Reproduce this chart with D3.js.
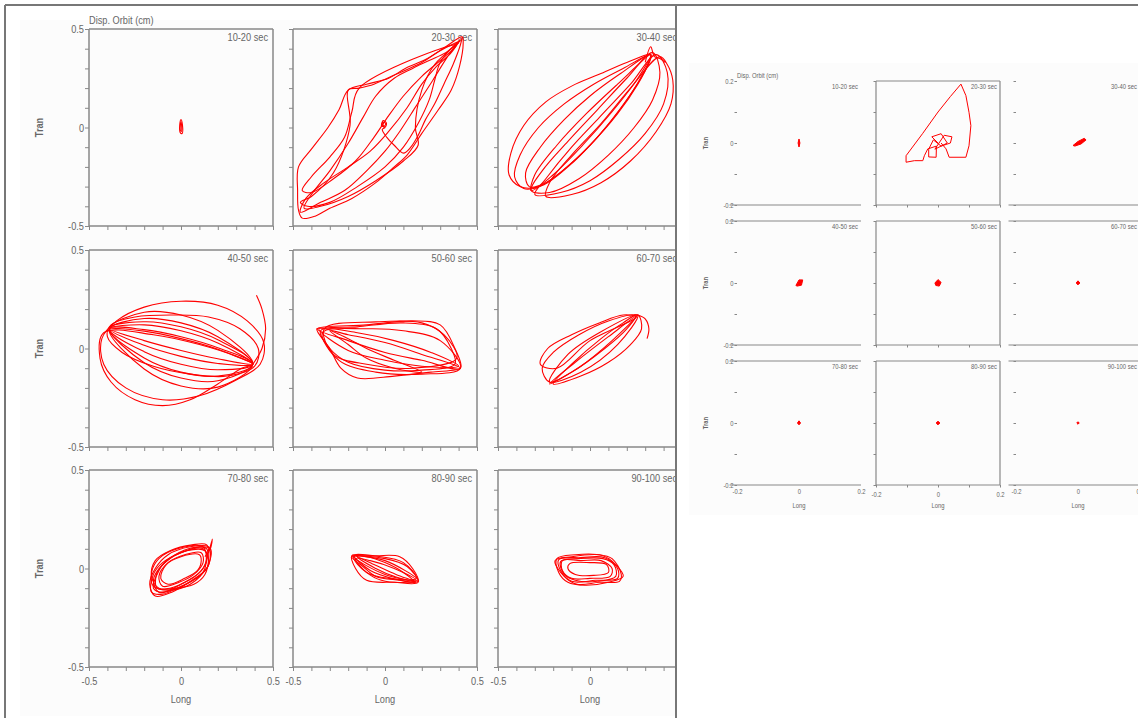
<!DOCTYPE html>
<html>
<head>
<meta charset="utf-8">
<script src="https://cdn.jsdelivr.net/npm/d3@7"></script>
<style>
body { margin: 0; background: #fff; }
svg { display: block; }
text { font-family: "Liberation Sans Narrow", "Arial Narrow", "Liberation Sans", sans-serif; fill: #666; }
</style>
</head>
<body>
<div id="chart"></div>
<script>
// time windows, one per panel
var windows = ["10-20 sec", "20-30 sec", "30-40 sec", "40-50 sec", "50-60 sec",
  "60-70 sec", "70-80 sec", "80-90 sec", "90-100 sec"];

// axis ticks (cm)
var bigTicks = [-0.5, -0.4, -0.3, -0.2, -0.1, 0, 0.1, 0.2, 0.3, 0.4, 0.5];
var bigLabels = [-0.5, 0, 0.5];
var smallTicks = [-0.2, -0.1, 0, 0.1, 0.2];
var smallLabels = [-0.2, 0, 0.2];

// orbits: closed loops [long, tran]
var orbit1020 = [
  [[0, 0.04], [0.008, 0.012], [0.006, -0.03], [-0.004, -0.026], [-0.007, 0.01]],
  [[0, 0.03], [0.004, 0.0], [0.002, -0.02], [-0.004, -0.012]]
];
var orbit2030 = [
  [[0.42, 0.46], [0.33, 0.41], [0.22, 0.345], [0.11, 0.3], [0.02, 0.25], [-0.1, 0.22], [-0.2, 0.19], [-0.25, 0.09], [-0.31, 0.0], [-0.4, -0.11], [-0.47, -0.2], [-0.475, -0.32], [-0.47, -0.42], [-0.45, -0.46], [-0.38, -0.45], [-0.3, -0.41], [-0.18, -0.36], [-0.05, -0.28], [0.05, -0.2], [0.12, -0.14], [0.2, -0.03], [0.29, 0.09], [0.36, 0.19], [0.405, 0.31], [0.425, 0.43]],
  [[-0.2, 0.19], [-0.19, 0.01], [-0.28, -0.23], [-0.4, -0.35], [-0.46, -0.38], [-0.42, -0.4], [-0.3, -0.38], [-0.15, -0.3], [0.0, -0.2], [0.1, -0.1], [0.18, 0.02], [0.24, 0.14], [0.27, 0.24], [0.3, 0.33], [0.38, 0.42], [0.41, 0.44], [0.3, 0.39], [0.2, 0.33], [0.06, 0.27], [-0.06, 0.22], [-0.14, 0.2]],
  [[0.27, 0.32], [0.2, 0.19], [0.165, 0.0], [0.18, -0.09], [0.1, -0.17], [-0.05, -0.27], [-0.2, -0.35], [-0.35, -0.4], [-0.44, -0.41], [-0.4, -0.34], [-0.3, -0.22], [-0.2, -0.08], [-0.12, 0.05], [-0.05, 0.16], [0.05, 0.25], [0.15, 0.3], [0.24, 0.34], [0.33, 0.38], [0.4, 0.43]],
  [[0.41, 0.45], [0.34, 0.36], [0.26, 0.24], [0.17, 0.11], [0.08, -0.02], [0.0, -0.12], [-0.1, -0.22], [-0.22, -0.32], [-0.35, -0.38], [-0.46, -0.43], [-0.43, -0.36], [-0.33, -0.28], [-0.2, -0.2], [-0.08, -0.12], [0.02, -0.02], [0.12, 0.1], [0.2, 0.22], [0.28, 0.31], [0.36, 0.38]],
  [[-0.14, 0.2], [-0.18, 0.08], [-0.22, -0.05], [-0.3, -0.15], [-0.4, -0.25], [-0.45, -0.32], [-0.4, -0.33], [-0.28, -0.26], [-0.16, -0.17], [-0.06, -0.05], [0.02, 0.06], [0.1, 0.16], [0.2, 0.26], [0.3, 0.34], [0.39, 0.42]],
  [[-0.01, 0.035], [0.008, 0.022], [0.0, 0.002], [-0.018, 0.012]],
  [[-0.005, 0.028], [0.003, 0.018], [-0.004, 0.008], [-0.012, 0.016]]
];
var orbit3040 = [
  [[0.33, 0.37], [0.2, 0.33], [0.05, 0.27], [-0.1, 0.21], [-0.24, 0.13], [-0.36, 0.01], [-0.43, -0.13], [-0.44, -0.24], [-0.38, -0.3], [-0.28, -0.3], [-0.15, -0.22], [0.0, -0.09], [0.15, 0.07], [0.26, 0.22], [0.32, 0.33]],
  [[0.33, 0.37], [0.18, 0.3], [0.02, 0.22], [-0.14, 0.12], [-0.28, 0.0], [-0.38, -0.14], [-0.41, -0.25], [-0.36, -0.31], [-0.25, -0.29], [-0.12, -0.2], [0.02, -0.07], [0.16, 0.09], [0.27, 0.24], [0.33, 0.35]],
  [[0.33, 0.37], [0.16, 0.27], [0.0, 0.16], [-0.14, 0.04], [-0.27, -0.1], [-0.35, -0.23], [-0.33, -0.3], [-0.24, -0.28], [-0.1, -0.18], [0.04, -0.05], [0.17, 0.1], [0.28, 0.26]],
  [[0.33, 0.37], [0.15, 0.22], [-0.02, 0.07], [-0.18, -0.09], [-0.3, -0.24], [-0.32, -0.32], [-0.2, -0.24], [-0.04, -0.09], [0.12, 0.08], [0.26, 0.25]],
  [[0.34, 0.38], [0.2, 0.25], [0.04, 0.09], [-0.12, -0.07], [-0.26, -0.22], [-0.32, -0.32], [-0.22, -0.33], [-0.06, -0.26], [0.1, -0.14], [0.24, 0.0], [0.34, 0.14], [0.38, 0.28]],
  [[0.36, 0.37], [0.22, 0.22], [0.05, 0.05], [-0.1, -0.1], [-0.24, -0.26], [-0.3, -0.34], [-0.16, -0.33], [0.0, -0.27], [0.16, -0.16], [0.3, -0.03], [0.4, 0.12], [0.42, 0.28]],
  [[0.38, 0.36], [0.22, 0.2], [0.06, 0.02], [-0.1, -0.14], [-0.22, -0.28], [-0.24, -0.35], [-0.1, -0.34], [0.06, -0.28], [0.22, -0.17], [0.36, -0.02], [0.44, 0.12], [0.45, 0.24], [0.42, 0.32]]
];
var orbit4050 = [
  [[-0.39, 0.1], [-0.2, 0.088], [0, 0.05], [0.2, -0.004], [0.39, -0.08], [0.2, -0.052], [0, -0.01], [-0.2, 0.04]],
  [[-0.39, 0.1], [-0.2, 0.12], [0, 0.09], [0.2, 0.028], [0.39, -0.08], [0.2, -0.076], [0, -0.04], [-0.2, 0.016]],
  [[-0.39, 0.1], [-0.2, 0.152], [0, 0.13], [0.2, 0.06], [0.39, -0.08], [0.2, -0.108], [0, -0.08], [-0.2, -0.016]],
  [[-0.39, 0.1], [-0.2, 0.184], [0, 0.17], [0.2, 0.092], [0.39, -0.08], [0.2, -0.14], [0, -0.12], [-0.2, -0.048]],
  [[-0.39, 0.1], [-0.2, 0.096], [0, 0.06], [0.2, 0.004], [0.39, -0.08], [0.2, -0.164], [0, -0.15], [-0.2, -0.072]],
  [[-0.39, 0.1], [-0.2, 0.136], [0, 0.11], [0.2, 0.044], [0.39, -0.08], [0.2, -0.196], [0, -0.19], [-0.2, -0.104]],
  [[-0.43, 0.05], [-0.35, 0.14], [-0.2, 0.21], [0.0, 0.24], [0.2, 0.22], [0.36, 0.14], [0.45, 0.03], [0.43, -0.08], [0.3, -0.16], [0.1, -0.24], [-0.1, -0.26], [-0.3, -0.2], [-0.42, -0.08]],
  [[-0.42, 0.08], [-0.44, -0.05], [-0.38, -0.17], [-0.25, -0.26], [-0.1, -0.29], [0.05, -0.26], [0.2, -0.18], [0.33, -0.1], [0.39, -0.08], [0.3, -0.04], [0.1, 0.02], [-0.15, 0.07]],
  [[-0.38, 0.12], [-0.25, 0.16], [-0.05, 0.17], [0.15, 0.16], [0.32, 0.1], [0.42, 0.0], [0.4, -0.09], [0.25, -0.14], [0.05, -0.13], [-0.15, -0.09], [-0.32, -0.02], [-0.4, 0.06]]
];
var orbit5060 = [
  [[-0.37, 0.1], [-0.1, 0.12], [0.15, 0.14], [0.3, 0.12], [0.38, 0.0], [0.41, -0.1], [0.2, -0.06], [0.0, -0.02], [-0.2, 0.04]],
  [[-0.37, 0.1], [-0.3, 0.0], [-0.24, -0.1], [-0.15, -0.15], [0.05, -0.14], [0.25, -0.12], [0.41, -0.1], [0.2, -0.03], [0.0, 0.03], [-0.2, 0.07]],
  [[-0.36, 0.1], [-0.15, 0.08], [0.05, 0.04], [0.25, -0.02], [0.4, -0.09], [0.2, -0.09], [0.0, -0.06], [-0.2, -0.01]],
  [[-0.35, 0.09], [-0.15, 0.11], [0.1, 0.13], [0.28, 0.1], [0.36, 0.0], [0.38, -0.08], [0.2, -0.11], [0.0, -0.11], [-0.2, -0.07], [-0.3, 0.0]],
  [[-0.34, 0.08], [-0.1, 0.1], [0.1, 0.09], [0.3, 0.04], [0.41, -0.1], [0.2, -0.13], [-0.05, -0.12], [-0.25, -0.06]],
  [[-0.3, 0.09], [-0.2, 0.02], [-0.1, -0.05], [0.05, -0.1], [0.2, -0.12], [0.05, -0.06], [-0.1, 0.0], [-0.2, 0.05]],
  [[-0.33, 0.1], [-0.05, 0.135], [0.2, 0.13], [0.32, 0.07], [0.39, -0.05], [0.15, -0.1], [-0.1, -0.08], [-0.28, -0.03]]
];
var orbit6070 = [
  [[0.26, 0.17], [0.1, 0.06], [-0.08, -0.07], [-0.22, -0.18], [-0.05, -0.09], [0.12, 0.04]],
  [[0.26, 0.17], [0.05, 0.08], [-0.12, -0.03], [-0.22, -0.17], [-0.05, -0.12], [0.15, 0.02]],
  [[0.25, 0.17], [0.1, 0.14], [-0.06, 0.07], [-0.2, -0.02], [-0.26, -0.1], [-0.22, -0.17], [-0.1, -0.12], [0.08, 0.0], [0.2, 0.1]],
  [[0.26, 0.17], [0.28, 0.1], [0.22, 0.02], [0.1, -0.07], [-0.05, -0.14], [-0.2, -0.18], [-0.1, -0.08], [0.06, 0.05], [0.18, 0.13]],
  [[0.25, 0.16], [0.0, 0.04], [-0.18, -0.1], [-0.27, -0.08], [-0.23, 0.0], [-0.1, 0.07], [0.05, 0.13], [0.18, 0.17]]
];
var orbit7080 = [
  [[0.15, 0.11], [0.05, 0.11], [-0.07, 0.07], [-0.14, 0.0], [-0.17, -0.08], [-0.14, -0.14], [-0.05, -0.12], [0.06, -0.06], [0.14, 0.0], [0.16, 0.07]],
  [[0.13, 0.09], [0.03, 0.09], [-0.08, 0.04], [-0.13, -0.03], [-0.15, -0.1], [-0.1, -0.12], [0.0, -0.08], [0.09, -0.03], [0.14, 0.04]],
  [[0.12, 0.1], [0.0, 0.08], [-0.1, 0.02], [-0.15, -0.06], [-0.12, -0.12], [-0.02, -0.1], [0.08, -0.05], [0.15, 0.02]],
  [[0.1, 0.07], [0.0, 0.06], [-0.08, 0.02], [-0.11, -0.05], [-0.07, -0.08], [0.02, -0.05], [0.09, -0.01], [0.11, 0.04]],
  [[0.14, 0.12], [0.06, 0.12], [-0.06, 0.09], [-0.14, 0.04], [-0.16, -0.04], [-0.12, -0.1], [-0.03, -0.1], [0.07, -0.08], [0.13, -0.03], [0.15, 0.05]],
  [[0.16, 0.1], [0.15, 0.02], [0.1, -0.04], [0.0, -0.09], [-0.1, -0.13], [-0.16, -0.12], [-0.15, -0.03], [-0.1, 0.03], [0.0, 0.08], [0.1, 0.11]],
  [[0.14, 0.1], [0.12, 0.0], [0.04, -0.06], [-0.06, -0.1], [-0.13, -0.1], [-0.13, -0.02], [-0.06, 0.05], [0.04, 0.1]],
  [[0.12, 0.11], [-0.02, 0.1], [-0.12, 0.05], [-0.16, -0.02], [-0.15, -0.09], [-0.06, -0.11], [0.05, -0.08], [0.13, 0.0]],
  [[0.11, 0.08], [0.02, 0.07], [-0.07, 0.03], [-0.12, -0.04], [-0.1, -0.09], [-0.01, -0.07], [0.07, -0.03], [0.12, 0.03]]
];
var orbit8090 = [
  [[-0.18, 0.065], [-0.05, 0.065], [0.08, 0.06], [0.15, 0.0], [0.18, -0.07], [0.05, -0.07], [-0.1, -0.06], [-0.16, 0.0]],
  [[-0.17, 0.06], [0.0, 0.04], [0.18, -0.06], [0.0, -0.03]],
  [[-0.17, 0.06], [-0.02, 0.06], [0.1, 0.03], [0.17, -0.05], [0.02, -0.05], [-0.1, -0.02]],
  [[-0.16, 0.05], [-0.1, -0.02], [-0.02, -0.06], [0.12, -0.07], [0.17, -0.06], [0.05, 0.0], [-0.08, 0.04]],
  [[-0.15, 0.06], [0.0, 0.05], [0.12, 0.01], [0.18, -0.065], [0.05, -0.04], [-0.05, 0.0]],
  [[-0.18, 0.06], [-0.12, 0.01], [-0.05, -0.04], [0.08, -0.06], [0.16, -0.07], [0.1, -0.02], [0.0, 0.03], [-0.1, 0.06]],
  [[-0.17, 0.065], [-0.06, 0.02], [0.06, -0.03], [0.17, -0.07], [0.06, -0.055], [-0.08, -0.01]]
];
var orbit90100 = [
  [[-0.19, 0.04], [-0.1, 0.06], [0.05, 0.07], [0.12, 0.05], [0.17, -0.03], [0.16, -0.065], [0.05, -0.07], [-0.07, -0.08], [-0.14, -0.04]],
  [[-0.17, 0.045], [-0.05, 0.055], [0.08, 0.055], [0.15, 0.0], [0.15, -0.05], [0.03, -0.06], [-0.1, -0.065], [-0.16, -0.01]],
  [[-0.15, 0.04], [-0.05, 0.04], [0.06, 0.04], [0.12, 0.0], [0.11, -0.04], [0.0, -0.05], [-0.1, -0.05], [-0.15, -0.01]],
  [[-0.11, 0.025], [0.0, 0.03], [0.09, 0.02], [0.1, -0.02], [0.02, -0.035], [-0.08, -0.03], [-0.12, 0.0]],
  [[-0.18, 0.05], [-0.08, 0.07], [0.07, 0.065], [0.14, 0.02], [0.18, -0.04], [0.1, -0.07], [-0.03, -0.085], [-0.12, -0.07], [-0.17, -0.02]],
  [[-0.16, 0.035], [-0.06, 0.05], [0.07, 0.05], [0.13, 0.02], [0.14, -0.04], [0.04, -0.065], [-0.08, -0.06], [-0.14, -0.03]]
];
// open trace segments (start / end of the window)
var tail2030 = [[-0.01, 0.03], [-0.02, 0.01], [0.0, 0.0], [-0.015, -0.01], [0.01, -0.05], [0.05, -0.09], [0.1, -0.13], [0.14, -0.1], [0.18, -0.04], [0.22, 0.04], [0.27, 0.12], [0.32, 0.22], [0.37, 0.32], [0.41, 0.42], [0.42, 0.46]];
var tail3040 = [[0.3, 0.33], [0.33, 0.41], [0.35, 0.36], [0.38, 0.35], [0.41, 0.33]];
var tail4050 = [[0.39, -0.08], [0.44, 0.0], [0.46, 0.1], [0.44, 0.2], [0.41, 0.27]];
var tail6070 = [[0.26, 0.17], [0.3, 0.15], [0.32, 0.1], [0.31, 0.05]];
var tail7080 = [[0.13, 0.06], [0.16, 0.1], [0.17, 0.15], [0.15, 0.08]];

// orbits of the right picture (+-0.2 cm scale)
var small1020 = [[0, 0.013], [0.003, 0], [0, -0.013], [-0.003, 0]];
var small2030 = [[0.0, 0.0], [-0.02, 0.02], [0.01, 0.03], [0.03, 0.0], [-0.01, -0.02], [0.02, 0.025], [0.045, 0.02], [0.04, 0.0], [0.01, -0.01], [-0.015, 0.01], [-0.03, -0.02], [-0.03, -0.045], [-0.006, -0.046], [-0.005, -0.01], [-0.033, -0.019], [-0.044, -0.041], [-0.049, -0.057], [-0.076, -0.057], [-0.103, -0.062], [-0.103, -0.041], [-0.05, 0.03], [0.0, 0.1], [0.04, 0.15], [0.074, 0.19], [0.09, 0.153], [0.1, 0.099], [0.106, 0.056], [0.1, -0.009], [0.09, -0.046], [0.036, -0.046], [0.026, -0.019], [0.01, 0.0]];
var small3040 = [[-0.016, -0.008], [0.0, 0.005], [0.02, 0.015], [0.026, 0.01], [0.01, -0.003], [-0.01, -0.01]];
var small4050 = [[-0.01, -0.008], [0.0, 0.01], [0.012, 0.01], [0.008, -0.007], [-0.006, -0.01]];
var small5060 = [[-0.01, 0.0], [0.0, 0.011], [0.01, 0.002], [0.004, -0.01], [-0.007, -0.008]];
var small6070 = [[-0.006, 0.0], [0.0, 0.007], [0.006, 0.0], [0.0, -0.006]];
var small7080 = [[-0.005, 0.0], [0.0, 0.007], [0.005, 0.0], [0.0, -0.006]];
var small8090 = [[-0.006, 0.0], [0.0, 0.006], [0.006, 0.0], [0.0, -0.006]];
var small90100 = [[-0.004, 0.0], [0.0, 0.004], [0.004, 0.0], [0.0, -0.004]];

var bigPanels = [
  { loops: orbit1020, tails: [] },
  { loops: orbit2030, tails: [tail2030] },
  { loops: orbit3040, tails: [tail3040] },
  { loops: orbit4050, tails: [tail4050] },
  { loops: orbit5060, tails: [] },
  { loops: orbit6070, tails: [tail6070] },
  { loops: orbit7080, tails: [tail7080] },
  { loops: orbit8090, tails: [] },
  { loops: orbit90100, tails: [] }
];
var smallPanels = [
  { loops: [small1020], tails: [] },
  { loops: [], tails: [small2030] },
  { loops: [small3040], tails: [] },
  { loops: [small4050], tails: [] },
  { loops: [small5060], tails: [] },
  { loops: [small6070], tails: [] },
  { loops: [small7080], tails: [] },
  { loops: [small8090], tails: [] },
  { loops: [small90100], tails: [] }
];

var width = 1138,
  height = 718;

var svg = d3.select('#chart')
  .append('svg')
  .attr('width', width)
  .attr('height', height)

var defs = svg.append('defs');
defs.append('clipPath').attr('id', 'clipL')
  .append('rect').attr('x', 0).attr('y', 0).attr('width', 676).attr('height', height);
defs.append('clipPath').attr('id', 'clipR')
  .append('rect').attr('x', 677).attr('y', 0).attr('width', width - 677).attr('height', height);

// faint paper tone of the two screenshots
svg.append('rect').attr('x', 20).attr('y', 20).attr('width', 656).attr('height', 696).attr('fill', '#fcfcfc');
svg.append('rect').attr('x', 689).attr('y', 63).attr('width', 449).attr('height', 452).attr('fill', '#fcfcfc');

var bigCfg = {
  cols: [89, 293, 498], rows: [29, 250, 470], w: 184, h: 197,
  domain: [-0.5, 0.5], ticks: bigTicks, labels: bigLabels,
  tick: 4, font: 11, line: 1.5, curve: d3.curveCatmullRomClosed, open: d3.curveCatmullRom,
  stroke: 1.1, fill: 'none', fullBox: function () { return true; }
};
var smallCfg = {
  cols: [737, 876, 1016], rows: [81, 221, 361], w: 124, h: 124,
  domain: [-0.2, 0.2], ticks: smallTicks, labels: smallLabels,
  tick: 2.5, font: 7, line: 1.2, curve: d3.curveLinearClosed, open: d3.curveLinear,
  stroke: 1, fill: 'red', fullBox: function (c, r) { return c == 1; }
};

function drawGrid(g, cfg, panels) {
  panels.forEach(function (p, i) {
    var c = i % 3, r = Math.floor(i / 3);
    var x0 = cfg.cols[c], y0 = cfg.rows[r];
    var x = d3.scaleLinear().domain(cfg.domain).range([x0, x0 + cfg.w]);
    var y = d3.scaleLinear().domain(cfg.domain).range([y0 + cfg.h, y0]);
    var pg = g.append('g');

    // y ticks (labels only on first column)
    var ya = pg.append('g')
      .attr('transform', 'translate(' + x0 + ',0)')
      .call(d3.axisLeft(y).tickValues(cfg.ticks).tickSize(cfg.tick).tickPadding(1)
        .tickFormat(function (d) { return (c == 0 && cfg.labels.indexOf(d) >= 0) ? String(d) : ''; }));
    // x ticks (labels only on last row)
    var showX = cfg.fullBox(c, r);
    var xa = pg.append('g')
      .attr('transform', 'translate(0,' + (y0 + cfg.h) + ')')
      .call(d3.axisBottom(x).tickValues(cfg.ticks).tickSize(showX ? cfg.tick : 0).tickPadding(cfg.tick + 2)
        .tickFormat(function (d) { return (r == 2 && cfg.labels.indexOf(d) >= 0) ? String(d) : ''; }));
    [ya, xa].forEach(function (a) {
      a.select('.domain').remove();
      a.selectAll('line').attr('stroke', '#888');
      a.selectAll('text').attr('font-size', cfg.font).attr('font-family', null).attr('fill', '#666');
    });
    ya.selectAll('text').attr('dy', '0.35em');

    // frame
    var bx = cfg.fullBox(c, r);
    var fr = pg.append('g').attr('stroke', '#888').attr('stroke-width', cfg.line).attr('fill', 'none');
    fr.append('line').attr('x1', x0 - (bx ? 0 : cfg.tick * 3)).attr('x2', x0 + cfg.w).attr('y1', y0 + cfg.h).attr('y2', y0 + cfg.h);
    if (bx || r > 0) {
      fr.append('line').attr('x1', x0 - (bx ? 0 : cfg.tick * 3)).attr('x2', x0 + cfg.w).attr('y1', y0).attr('y2', y0);
    }
    if (bx) {
      fr.append('line').attr('x1', x0).attr('x2', x0).attr('y1', y0).attr('y2', y0 + cfg.h);
      fr.append('line').attr('x1', x0 + cfg.w).attr('x2', x0 + cfg.w).attr('y1', y0).attr('y2', y0 + cfg.h);
    }

    // window label
    pg.append('text')
      .attr('x', x0 + cfg.w - cfg.font * 0.45)
      .attr('y', y0 + cfg.font * 1.1)
      .attr('text-anchor', 'end')
      .attr('font-size', cfg.font)
      .text(windows[i]);

    // orbit traces
    var loopLine = d3.line().x(function (d) { return x(d[0]); }).y(function (d) { return y(d[1]); }).curve(cfg.curve);
    var openLine = d3.line().x(function (d) { return x(d[0]); }).y(function (d) { return y(d[1]); }).curve(cfg.open);
    pg.selectAll('path.loop')
      .data(p.loops)
      .join('path')
      .attr('class', 'loop')
      .attr('d', loopLine)
      .attr('fill', cfg.fill)
      .attr('stroke', 'red')
      .attr('stroke-width', cfg.stroke)
      .attr('stroke-linejoin', 'round');
    pg.selectAll('path.tail')
      .data(p.tails)
      .join('path')
      .attr('class', 'tail')
      .attr('d', openLine)
      .attr('fill', 'none')
      .attr('stroke', 'red')
      .attr('stroke-width', cfg.stroke)
      .attr('stroke-linejoin', 'round');

    // axis titles
    if (c == 0) {
      pg.append('text')
        .attr('transform', 'translate(' + (x0 - cfg.font * 4.2) + ',' + (y0 + cfg.h / 2) + ') rotate(-90)')
        .attr('text-anchor', 'middle')
        .attr('font-size', cfg.font)
        .attr('font-weight', 'bold')
        .attr('fill', '#333')
        .text('Tran');
    }
    if (r == 2) {
      pg.append('text')
        .attr('x', x0 + cfg.w / 2)
        .attr('y', y0 + cfg.h + cfg.font * 3.3)
        .attr('text-anchor', 'middle')
        .attr('font-size', cfg.font)
        .text('Long');
    }
  });

  g.append('text')
    .attr('x', cfg.cols[0])
    .attr('y', cfg.rows[0] - cfg.font * 0.45)
    .attr('font-size', cfg.font)
    .text('Disp. Orbit (cm)');
}

var left = svg.append('g').attr('clip-path', 'url(#clipL)');
drawGrid(left, bigCfg, bigPanels);

var right = svg.append('g').attr('clip-path', 'url(#clipR)');
drawGrid(right, smallCfg, smallPanels);

// narrow the lettering like the original's condensed face
svg.selectAll('text').each(function () {
  var t = d3.select(this);
  var tx = +t.attr('x') || 0;
  var tr = t.attr('transform') || '';
  t.attr('transform', tr + ' translate(' + tx + ',0) scale(0.84,1) translate(' + (-tx) + ',0)');
});

// screenshot frame lines
var frame = svg.append('g').attr('stroke', '#777').attr('stroke-width', 2);
frame.append('line').attr('x1', 5).attr('x2', width).attr('y1', 5).attr('y2', 5);
frame.append('line').attr('x1', 5).attr('x2', 5).attr('y1', 5).attr('y2', height);
frame.append('line').attr('x1', 676).attr('x2', 676).attr('y1', 5).attr('y2', height);
</script>
</body>
</html>
